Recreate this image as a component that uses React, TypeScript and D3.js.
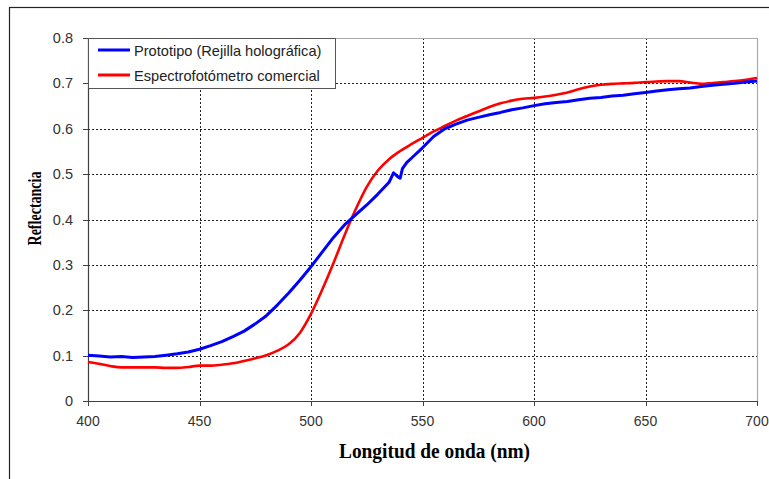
import React from "react";
import * as d3 from "d3";

const wavelengthsBlue = [400,405,410,415,420,425,430,435,440,445,450,455,460,465,470,475,480,485,490,495,500,505,510,515,520,525,530,535,537,539,540,541,543,545,550,555,560,565,570,575,580,585,590,595,600,605,610,615,620,625,630,635,640,645,650,655,660,665,670,675,680,685,690,695,700];
const prototipo = [0.101,0.099,0.097,0.098,0.096,0.097,0.098,0.101,0.104,0.108,0.114,0.122,0.131,0.142,0.154,0.170,0.188,0.212,0.238,0.266,0.296,0.328,0.360,0.388,0.410,0.432,0.456,0.482,0.503,0.494,0.491,0.512,0.526,0.535,0.558,0.583,0.600,0.610,0.619,0.625,0.631,0.636,0.642,0.646,0.651,0.655,0.658,0.660,0.664,0.667,0.669,0.672,0.674,0.677,0.680,0.683,0.686,0.688,0.690,0.693,0.696,0.698,0.700,0.703,0.705];

const wavelengthsRed = [400,405,410,415,420,425,430,435,440,445,450,455,460,465,470,475,480,485,490,495,500,505,510,515,520,525,530,535,540,545,550,555,560,565,570,575,580,585,590,595,600,605,610,615,620,625,630,635,640,645,650,655,660,665,670,675,680,685,690,695,700];
const espectrofotometro = [0.086,0.082,0.077,0.074,0.074,0.074,0.074,0.073,0.073,0.075,0.078,0.078,0.080,0.083,0.088,0.094,0.101,0.111,0.125,0.150,0.192,0.245,0.303,0.365,0.422,0.472,0.508,0.533,0.551,0.566,0.580,0.594,0.606,0.618,0.628,0.638,0.648,0.656,0.662,0.666,0.668,0.671,0.675,0.680,0.687,0.693,0.697,0.699,0.700,0.701,0.703,0.704,0.705,0.705,0.702,0.699,0.701,0.703,0.705,0.708,0.712];

const xTicks = [400,450,500,550,600,650,700];
const yTicks = [0,0.1,0.2,0.3,0.4,0.5,0.6,0.7,0.8];
const seriesNames = ["Prototipo (Rejilla holográfica)", "Espectrofotómetro comercial"];
const seriesColors = ["#0000ff", "#ff0000"];
const xTitle = "Longitud de onda (nm)";
const yTitle = "Reflectancia";

export default function App() {
  const W = 769, H = 479;
  const L = 88, R = 757, T = 38, B = 401;
  const x = d3.scaleLinear().domain([400, 700]).range([L, R]);
  const y = d3.scaleLinear().domain([0, 0.8]).range([B, T]);

  const blueLine = d3.line<number>()
    .x((_, i) => x(wavelengthsBlue[i]))
    .y((d) => y(d))
    .curve(d3.curveLinear)(prototipo) || "";
  const redLine = d3.line<number>()
    .x((_, i) => x(wavelengthsRed[i]))
    .y((d) => y(d))
    .curve(d3.curveMonotoneX)(espectrofotometro) || "";

  const fmt = (v: number) => (v === 0 ? "0" : d3.format(".1f")(v));
  const tickFont = "Arial, 'Liberation Sans', sans-serif";
  const serif = "'Times New Roman', 'Liberation Serif', serif";

  return (
    <svg width={W} height={H} style={{ position: "absolute", left: 0, top: 0, background: "#fff" }}>
      <rect x={0} y={0} width={W} height={H} fill="#fff" />
      <rect x={9.5} y={7.5} width={W + 20} height={H + 20} fill="none" stroke="#222" strokeWidth={1.2} />
      {yTicks.filter((t) => t > 0 && t < 0.8).map((t) => (
        <line key={"gy" + t} x1={L} x2={R} y1={Math.round(y(t)) + 0.5} y2={Math.round(y(t)) + 0.5}
          stroke="#222" strokeDasharray="2,2" strokeWidth={1} />
      ))}
      {xTicks.filter((t) => t > 400 && t < 700).map((t) => (
        <line key={"gx" + t} x1={Math.round(x(t)) + 0.5} x2={Math.round(x(t)) + 0.5} y1={T} y2={B}
          stroke="#222" strokeDasharray="2,2" strokeWidth={1} />
      ))}
      <line x1={L} x2={R} y1={T + 0.5} y2={T + 0.5} stroke="#aaa" strokeWidth={1.2} />
      <line x1={R + 0.5} x2={R + 0.5} y1={T} y2={B} stroke="#aaa" strokeWidth={1.2} />
      <line x1={L + 0.5} x2={L + 0.5} y1={T} y2={B} stroke="#404040" strokeWidth={1.2} />
      <line x1={L} x2={R + 1} y1={B + 0.5} y2={B + 0.5} stroke="#404040" strokeWidth={1.2} />
      {yTicks.map((t) => (
        <g key={"yt" + t}>
          <line x1={L - 5} x2={L} y1={Math.round(y(t)) + 0.5} y2={Math.round(y(t)) + 0.5} stroke="#404040" />
          <text x={L - 15} y={y(t) + 5} textAnchor="end" fontFamily={tickFont} fontSize={14.5} fill="#333">{fmt(t)}</text>
        </g>
      ))}
      {xTicks.map((t) => (
        <g key={"xt" + t}>
          <line x1={Math.round(x(t)) + 0.5} x2={Math.round(x(t)) + 0.5} y1={B} y2={B + 5} stroke="#404040" />
          <text x={x(t)} y={426} textAnchor="middle" fontFamily={tickFont} fontSize={14} fill="#333">{t}</text>
        </g>
      ))}
      <path d={redLine} fill="none" stroke={seriesColors[1]} strokeWidth={2.6} strokeLinejoin="round" />
      <path d={blueLine} fill="none" stroke={seriesColors[0]} strokeWidth={3} strokeLinejoin="round" />
      <rect x={L + 0.5} y={T + 0.5} width={247} height={50} fill="#fff" stroke="#555" strokeWidth={1} />
      {seriesNames.map((n, i) => (
        <g key={n}>
          <line x1={98} x2={130} y1={50 + i * 25} y2={50 + i * 25} stroke={seriesColors[i]} strokeWidth={3} />
          <text x={134} y={55.5 + i * 25} fontFamily={tickFont} fontSize={14.6} fill="#222">{n}</text>
        </g>
      ))}
      <text x={339} y={458} textLength={191} lengthAdjust="spacingAndGlyphs" fontFamily={serif} fontWeight="bold" fontSize={20} fill="#000">{xTitle}</text>
      <text transform="translate(41,208.5) rotate(-90)" textAnchor="middle" textLength={74} lengthAdjust="spacingAndGlyphs" fontFamily={serif} fontWeight="bold" fontSize={19} fill="#000">{yTitle}</text>
    </svg>
  );
}
